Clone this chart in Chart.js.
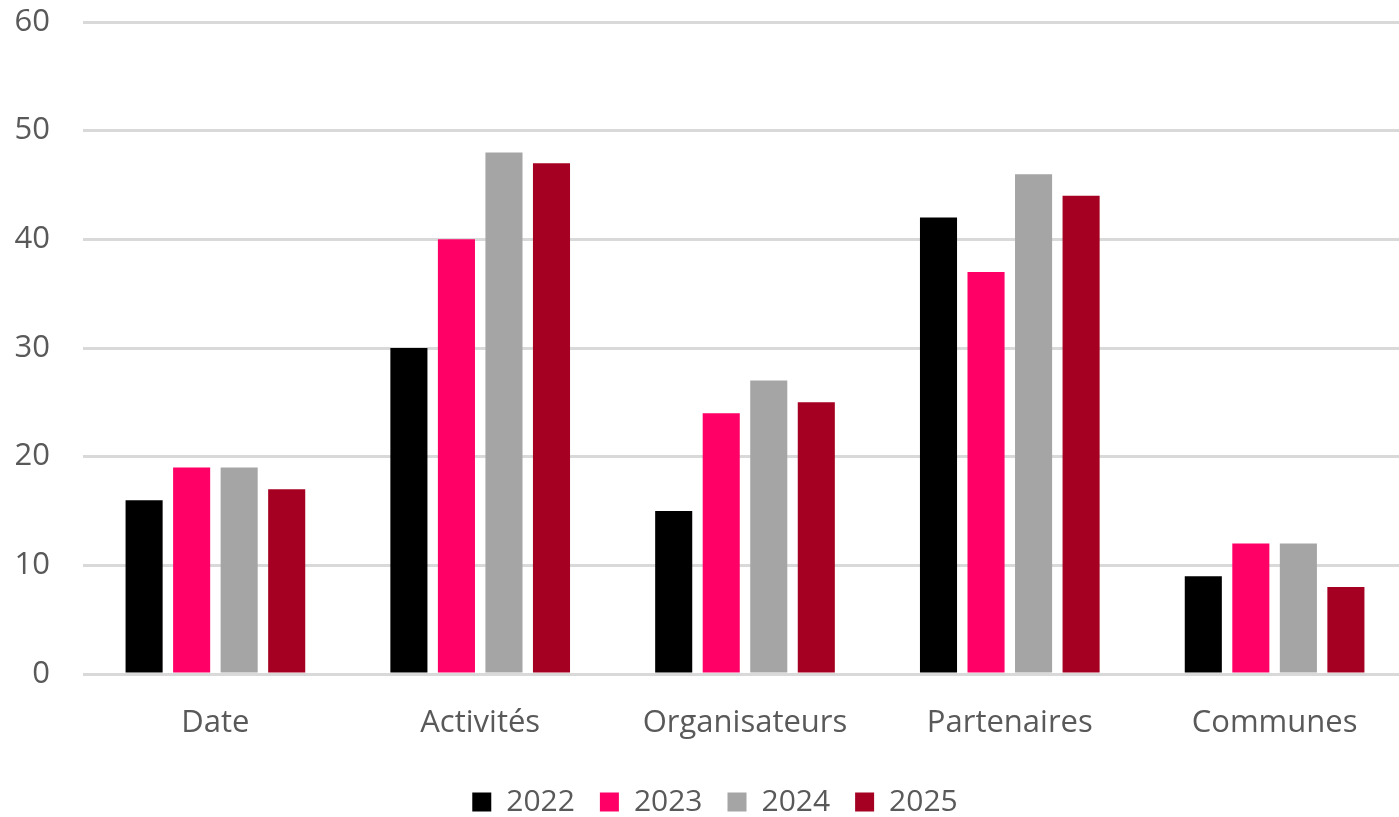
<!DOCTYPE html>
<html>
<head>
<meta charset="utf-8">
<script src="https://cdn.jsdelivr.net/npm/chart.js@4.4.1/dist/chart.umd.min.js"></script>
<style>
html,body{margin:0;padding:0;background:#fff;}
#wrap{width:1399px;height:817px;}
</style>
</head>
<body>
<div id="wrap"><canvas id="c" width="1399" height="817"></canvas></div>
<script>
const categories = ["Date", "Activités", "Organisateurs", "Partenaires", "Communes"];
const years = ["2022", "2023", "2024", "2025"];
const values2022 = [16, 30, 15, 42, 9];
const values2023 = [19, 40, 24, 37, 12];
const values2024 = [19, 48, 27, 46, 12];
const values2025 = [17, 47, 25, 44, 8];
const yTicks = [0, 10, 20, 30, 40, 50, 60];
const colors = ["#000000", "#FF0066", "#A5A5A5", "#A50021"];

const seriesValues = [values2022, values2023, values2024, values2025];
const FONT = "'Open Sans', 'Noto Sans', sans-serif";
const TXT = "#595959";

// Excel's plot area runs a few pixels past the right edge of the picture
const layoutTweak = {
  id: 'layoutTweak',
  afterLayout(chart) {
    const lg = chart.legend;
    if (lg) { lg.left -= 26; lg.right -= 26; }
    const xs = chart.scales.x;
    xs.right += 8; xs.width += 8;
    xs.configure();
  }
};

new Chart(document.getElementById('c'), {
  type: 'bar',
  data: {
    labels: categories,
    datasets: years.map((y, i) => ({
      label: y,
      data: seriesValues[i],
      backgroundColor: colors[i],
      borderWidth: 0,
      barPercentage: 0.78,
      categoryPercentage: 0.718
    }))
  },
  options: {
    responsive: false,
    animation: false,
    layout: { padding: { left: 0, right: 0, top: 22, bottom: -10 } },
    plugins: {
      tooltip: { enabled: false },
      legend: {
        position: 'bottom',
        fullSize: false,
        labels: {
          boxWidth: 19,
          boxHeight: 19,
          padding: 25,
          color: TXT,
          font: { family: FONT, size: 30 }
        }
      }
    },
    scales: {
      x: {
        grid: { display: false, drawTicks: false },
        border: { display: false },
        ticks: { color: TXT, font: { family: FONT, size: 31 }, padding: 31 },
        afterFit: (axis) => { axis.height = 88; }
      },
      y: {
        min: 0, max: 60,
        afterBuildTicks: (axis) => { axis.ticks = yTicks.map(v => ({ value: v })); },
        grid: { color: '#D9D9D9', lineWidth: 3, drawTicks: false },
        border: { display: false },
        ticks: { color: TXT, font: { family: FONT, size: 31 }, padding: 33 },
        afterFit: (axis) => { axis.width = 83; axis.paddingTop = 0; axis.paddingBottom = 0; }
      }
    }
  },
  plugins: [layoutTweak]
});
</script>
</body>
</html>
